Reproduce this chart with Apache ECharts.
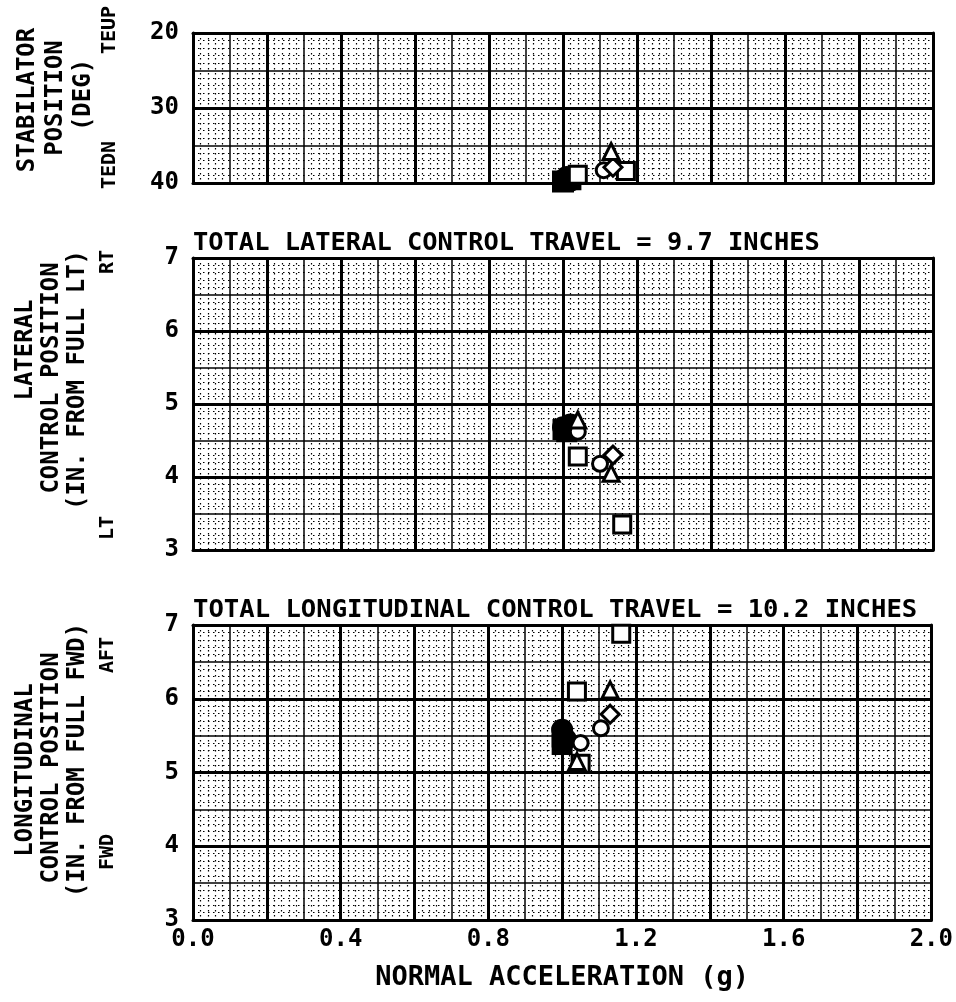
<!DOCTYPE html>
<html><head><meta charset="utf-8">
<script src="https://cdn.jsdelivr.net/npm/echarts@6/dist/echarts.min.js"></script>
<style>html,body{margin:0;padding:0;background:#fff}#c{width:956px;height:1002px}</style>
</head><body><div id="c"></div>
<script>
// ---- data (normal acceleration g, value) ----
const xTicks = [0.0, 0.4, 0.8, 1.2, 1.6, 2.0];
const stabTicks = [20, 30, 40];
const ctrlTicks = [3, 4, 5, 6, 7];

// Stabilator position (deg)
const stabFilledCircle = [[1.00, 39.6], [1.01, 39.2], [1.02, 39.7]];
const stabFilledSquare = [[1.00, 39.8], [1.02, 39.5]];
const stabOpenSquare   = [[1.04, 38.9], [1.17, 38.4]];
const stabOpenCircle   = [[1.11, 38.3]];
const stabOpenDiamond  = [[1.135, 37.9]];
const stabOpenTriangle = [[1.13, 35.8]];

// Lateral control position (in. from full LT)
const latFilledCircle  = [[1.00, 4.68], [1.02, 4.72]];
const latFilledSquare  = [[1.00, 4.65], [1.01, 4.62]];
const latOpenSquare    = [[1.04, 4.28], [1.16, 3.35]];
const latOpenCircle    = [[1.10, 4.18], [1.04, 4.62]];
const latOpenDiamond   = [[1.135, 4.30]];
const latOpenTriangle  = [[1.04, 4.78], [1.13, 4.05]];

// Longitudinal control position (in. from full FWD)
const lonFilledCircle  = [[1.00, 5.58], [1.01, 5.45]];
const lonFilledSquare  = [[1.00, 5.38], [1.00, 5.48]];
const lonOpenSquare    = [[1.04, 6.10], [1.16, 6.88], [1.05, 5.12]];
const lonOpenCircle    = [[1.105, 5.60], [1.05, 5.40]];
const lonOpenDiamond   = [[1.13, 5.79]];
const lonOpenTriangle  = [[1.13, 6.12], [1.04, 5.15]];

const FONT = 'DejaVu Sans Mono';
const grids = [
  {left: 193, top: 33, width: 740, height: 150},
  {left: 193, top: 258, width: 740, height: 292},
  {left: 193, top: 625, width: 740, height: 295}
];

const xAxis = [], yAxis = [];
grids.forEach((g, i) => {
  const isBottom = i === 2;
  xAxis.push({
    gridIndex: i, type: 'value', min: 0, max: 2, interval: 0.1, position: 'bottom',
    axisLine: {show: true, onZero: false, lineStyle: {color: '#000', width: 3}},
    axisTick: {show: false},
    axisLabel: {show: isBottom, margin: 8, color: '#000', fontFamily: FONT, fontWeight: 'bold', fontSize: 24,
      formatter: v => { const r = Math.round(v * 10) / 10; return xTicks.some(t => Math.abs(t - r) < 1e-6) ? r.toFixed(1) : ''; }},
    splitLine: {show: true, lineStyle: {color: '#000', width: 1.5}},
    minorTick: {show: false, splitNumber: 5},
    minorSplitLine: {show: true, lineStyle: {color: '#000', width: 1.2, type: [1.5, 3.5]}},
    name: isBottom ? 'NORMAL ACCELERATION (g)' : '', nameLocation: 'middle', nameGap: 44,
    nameTextStyle: {color: '#000', fontFamily: FONT, fontWeight: 'bold', fontSize: 27}
  });
  xAxis.push({
    gridIndex: i, type: 'value', min: 0, max: 2, interval: 0.2, position: 'top',
    axisLine: {show: true, onZero: false, lineStyle: {color: '#000', width: 3}},
    axisTick: {show: false}, axisLabel: {show: false},
    splitLine: {show: true, lineStyle: {color: '#000', width: 3}}
  });
  const top = i === 0;
  yAxis.push({
    gridIndex: i, type: 'value', position: 'left',
    min: top ? 20 : 3, max: top ? 40 : 7, interval: top ? 10 : 1, inverse: top,
    axisLine: {show: true, onZero: false, lineStyle: {color: '#000', width: 3}},
    axisTick: {show: false},
    axisLabel: {show: true, margin: 14, color: '#000', fontFamily: FONT, fontWeight: 'bold', fontSize: 24,
      formatter: v => { const list = top ? stabTicks : ctrlTicks; return list.includes(Math.round(v)) ? String(Math.round(v)) : ''; }},
    splitLine: {show: true, lineStyle: {color: '#000', width: 3}}
  });
  yAxis.push({
    gridIndex: i, type: 'value', position: 'right',
    min: top ? 20 : 3, max: top ? 40 : 7, interval: top ? 5 : 0.5, inverse: top,
    axisLine: {show: true, onZero: false, lineStyle: {color: '#000', width: 3}},
    axisTick: {show: false}, axisLabel: {show: false},
    splitLine: {show: true, lineStyle: {color: '#000', width: 1.5}},
    minorTick: {show: false, splitNumber: 5},
    minorSplitLine: {show: true, lineStyle: {color: '#000', width: 1.2, type: [1.5, 3.5]}}
  });
});

function mk(data, gi, symbol, filled, size) {
  return {
    type: 'scatter', xAxisIndex: gi * 2, yAxisIndex: gi * 2 + 1, data: data,
    symbol: symbol, symbolSize: size || 17, z: 5,
    itemStyle: {color: filled ? '#000' : '#fff', borderColor: '#000', borderWidth: 3, opacity: 1},
    emphasis: {disabled: true}
  };
}
const series = [
  mk(stabFilledCircle, 0, 'circle', true, 19), mk(stabFilledSquare, 0, 'rect', true, 19),
  mk(stabOpenSquare, 0, 'rect', false), mk(stabOpenCircle, 0, 'circle', false, 15),
  mk(stabOpenDiamond, 0, 'diamond', false, 18), mk(stabOpenTriangle, 0, 'triangle', false, 16),
  mk(latFilledCircle, 1, 'circle', true, 19), mk(latFilledSquare, 1, 'rect', true, 18),
  mk(latOpenSquare, 1, 'rect', false), mk(latOpenCircle, 1, 'circle', false, 15),
  mk(latOpenDiamond, 1, 'diamond', false, 18), mk(latOpenTriangle, 1, 'triangle', false, 16),
  mk(lonFilledCircle, 2, 'circle', true, 19), mk(lonFilledSquare, 2, 'rect', true, 18),
  mk(lonOpenSquare, 2, 'rect', false), mk(lonOpenCircle, 2, 'circle', false, 15),
  mk(lonOpenDiamond, 2, 'diamond', false, 18), mk(lonOpenTriangle, 2, 'triangle', false, 16)
];

function vt(text, x, y, size) {
  return {type: 'text', x: x, y: y, rotation: Math.PI / 2,
    style: {text: text, fill: '#000', font: 'bold ' + (size || 24) + 'px "' + FONT + '"', textAlign: 'center', textVerticalAlign: 'middle'}};
}
function ht(text, x, y, size) {
  return {type: 'text', x: x, y: y,
    style: {text: text, fill: '#000', font: 'bold ' + (size || 25) + 'px "' + FONT + '"', textAlign: 'left', textVerticalAlign: 'middle'}};
}
const graphic = [
  vt('STABILATOR', 28, 100), vt('POSITION', 56, 98), vt('(DEG)', 84, 95), vt('TEUP', 110, 30, 20), vt('TEDN', 110, 165, 20),
  vt('LATERAL', 26, 350), vt('CONTROL POSITION', 52, 378), vt('(IN. FROM FULL LT)', 78, 380), vt('RT', 108, 262, 20), vt('LT', 108, 528, 20),
  vt('LONGITUDINAL', 26, 770), vt('CONTROL POSITION', 52, 768), vt('(IN. FROM FULL FWD)', 78, 760), vt('AFT', 108, 655, 20), vt('FWD', 108, 852, 20),
  ht('TOTAL LATERAL CONTROL TRAVEL = 9.7 INCHES', 193, 243, 25.4),
  ht('TOTAL LONGITUDINAL CONTROL TRAVEL = 10.2 INCHES', 193, 610, 25.6)
];

const chart = echarts.init(document.getElementById('c'), null, {renderer: 'canvas'});
chart.setOption({
  animation: false, backgroundColor: '#fff',
  grid: grids.map(g => Object.assign({show: false, containLabel: false}, g)),
  xAxis: xAxis, yAxis: yAxis, series: series, graphic: graphic
});
</script></body></html>
